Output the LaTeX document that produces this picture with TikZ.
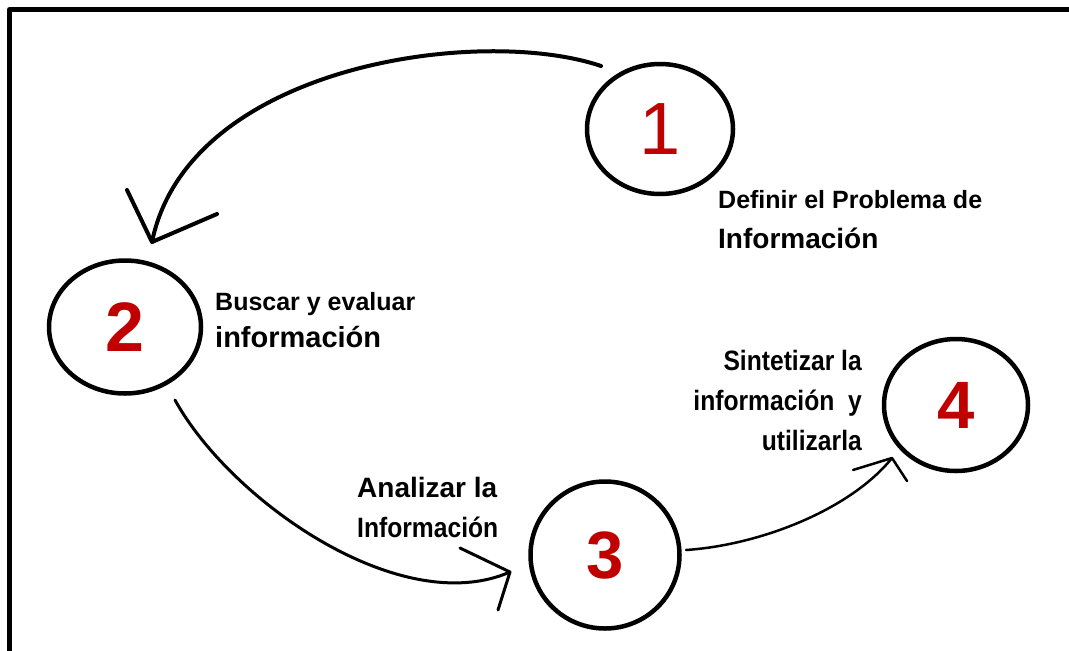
\documentclass[tikz,border=0pt]{standalone}
\usepackage{fontspec}
\setmainfont{Liberation Sans}
\newfontfamily\narrowfont[FakeStretch=0.88]{Liberation Sans}
\usetikzlibrary{shapes.geometric}
\definecolor{stepred}{HTML}{C00000}

\begin{document}
\begin{tikzpicture}[x=1pt,y=-1pt,line cap=round,line join=round]
    \tikzstyle{stage}=[ellipse,draw=black,line width=4.5pt,inner sep=0pt,text=stepred]
    \tikzstyle{steptext}=[inner sep=0pt,text=black]
    \tikzstyle{stroke}=[draw=black,line width=3pt]

    \useasboundingbox (0,0) rectangle (1069,651);

    % Frame
    \draw[line width=5pt] (9.5,651) -- (9.5,9.5) -- (1069,9.5);

    % Stages
    \node[stage,minimum width=146,minimum height=130,font=\fontsize{74}{74}\selectfont] (one) at (660,129) {1};
    \node[stage,minimum width=152,minimum height=133,font=\bfseries\fontsize{70}{70}\selectfont] (two) at (125,327) {2};
    \node[stage,minimum width=149,minimum height=147,font=\bfseries\fontsize{67}{67}\selectfont] (three) at (605,555) {3};
    \node[stage,minimum width=144,minimum height=132,font=\bfseries\fontsize{67}{67}\selectfont] (four) at (956,405) {4};

    % Texts of stage 1
    \node[steptext,anchor=base west,font=\bfseries\fontsize{25}{30}\selectfont] (t1a) at (718,208) {Definir el Problema de};
    \node[steptext,anchor=base west,font=\bfseries\fontsize{28}{30}\selectfont] (t1b) at (718,248) {Información};

    % Texts of stage 2
    \node[steptext,anchor=base west,font=\bfseries\fontsize{25}{30}\selectfont] (t2a) at (215,310) {Buscar y evaluar};
    \node[steptext,anchor=base west,font=\bfseries\fontsize{29}{30}\selectfont] (t2b) at (215,347) {información};

    % Texts of stage 3
    \node[steptext,anchor=base west,font=\bfseries\fontsize{28}{30}\selectfont] (t3a) at (357,497) {Analizar la};
    \node[steptext,anchor=base west,font=\narrowfont\bfseries\fontsize{28}{30}\selectfont] (t3b) at (357,537) {Información};

    % Texts of stage 4
    \node[steptext,anchor=base east,font=\narrowfont\bfseries\fontsize{28}{30}\selectfont] (t4a) at (862,370) {Sintetizar la};
    \node[steptext,anchor=base east,font=\narrowfont\bfseries\fontsize{28}{30}\selectfont] (t4b) at (862,410) {información\ \ y};
    \node[steptext,anchor=base east,font=\narrowfont\bfseries\fontsize{28}{30}\selectfont] (t4c) at (862,450) {utilizarla};

    % Ends of the hand drawn arrows
    \coordinate (a1s) at (601,66);
    \coordinate (a1e) at (152,242);
    \coordinate (a2s) at (175,400);
    \coordinate (a2e) at (510,572);
    \coordinate (a3s) at (686,550);
    \coordinate (a3e) at (892,458);

    % Stage 1 to stage 2
    \draw[stroke,line width=4pt] (a1s) .. controls (480,25) and (188,65) .. (a1e);
    \draw[stroke,line width=4pt] (a1e) ++(-25,-52) -- (a1e) -- ++(65,-28);

    % Stage 2 to stage 3
    \draw[stroke] (a2s) .. controls (230,500) and (400,620) .. (a2e);
    \draw[stroke] (a2e) ++(-50,-24) -- (a2e) -- ++(-12,38);

    % Stage 3 to stage 4
    \draw[stroke,line width=2.5pt] (a3s) .. controls (760,545) and (850,510) .. (a3e);
    \draw[stroke,line width=2.5pt] (a3e) ++(-39,12) -- (a3e) -- ++(15,23);

\end{tikzpicture}
\end{document}
